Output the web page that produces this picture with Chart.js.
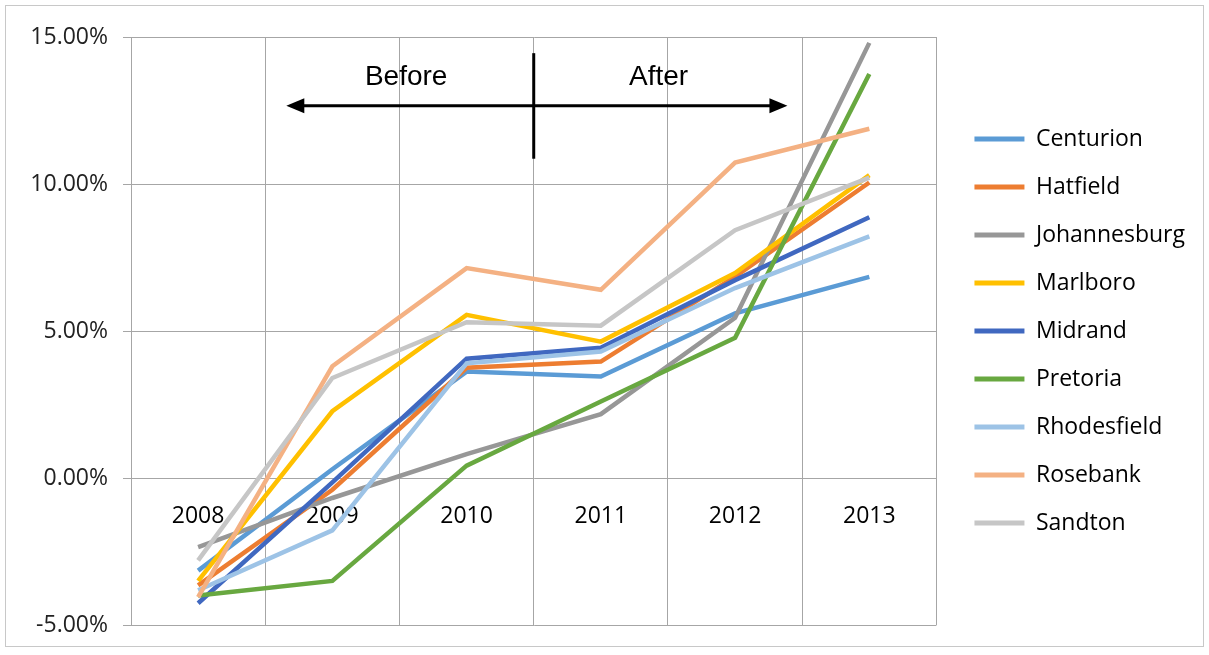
<!DOCTYPE html>
<html>
<head>
<meta charset="utf-8">
<script src="https://cdn.jsdelivr.net/npm/chart.js@4/dist/chart.umd.min.js"></script>
<style>
  html, body { margin: 0; padding: 0; background: #ffffff; }
  #wrap { position: relative; width: 1209px; height: 655px; }
  #frame { position: absolute; left: 5px; top: 5px; width: 1199px; height: 642px; border: 1px solid #c8c8c8; box-sizing: border-box; pointer-events: none; }
  canvas { position: absolute; left: 0; top: 0; }
</style>
</head>
<body>
<div id="wrap">
  <canvas id="chart" width="1209" height="655"></canvas>
  <div id="frame"></div>
</div>
<script>
// Annual change per office node, in percent
const years = ['2008', '2009', '2010', '2011', '2012', '2013'];

const centurion    = [-3.15,  0.30, 3.62, 3.45,  5.60,  6.84];
const hatfield     = [-3.65, -0.40, 3.75, 3.96,  6.85, 10.05];
const johannesburg = [-2.35, -0.68, 0.81, 2.17,  5.45, 14.80];
const marlboro     = [-3.50,  2.27, 5.55, 4.64,  6.97, 10.30];
const midrand      = [-4.26, -0.15, 4.06, 4.43,  6.73,  8.87];
const pretoria     = [-4.00, -3.50, 0.42, 2.60,  4.77, 13.74];
const rhodesfield  = [-3.82, -1.78, 3.90, 4.30,  6.46,  8.22];
const rosebank     = [-4.05,  3.80, 7.14, 6.40, 10.73, 11.88];
const sandton      = [-2.80,  3.40, 5.30, 5.18,  8.43, 10.22];

const yTicks = [-5, 0, 5, 10, 15];

const seriesNames = ['Centurion', 'Hatfield', 'Johannesburg', 'Marlboro', 'Midrand',
                     'Pretoria', 'Rhodesfield', 'Rosebank', 'Sandton'];
const seriesValues = [centurion, hatfield, johannesburg, marlboro, midrand,
                      pretoria, rhodesfield, rosebank, sandton];
const seriesColors = ['#5b9bd5', '#ed7d31', '#979797', '#ffc000', '#4068c0',
                      '#68a840', '#9dc3e6', '#f4b183', '#c6c6c6'];

const FONT = '"Open Sans", "DejaVu Sans", sans-serif';

const datasets = seriesNames.map((name, i) => ({
  label: name,
  data: seriesValues[i],
  borderColor: seriesColors[i],
  backgroundColor: seriesColors[i],
  borderWidth: 4.5,
  pointRadius: 0,
  pointHoverRadius: 0,
  tension: 0,
  fill: false,
  // later series sit on top of earlier ones
  order: seriesNames.length - 1 - i
}));

// Before / After divider with double-headed arrow
const periodMarker = {
  id: 'periodMarker',
  afterDatasetsDraw(chart) {
    const { ctx, scales: { x, y } } = chart;
    ctx.save();
    ctx.strokeStyle = '#000000';
    ctx.fillStyle = '#000000';
    ctx.lineWidth = 3;

    // divider between 2010 and 2011
    const dx = x.getPixelForValue(2.5);
    ctx.beginPath();
    ctx.moveTo(dx, y.getPixelForValue(14.45));
    ctx.lineTo(dx, y.getPixelForValue(10.86));
    ctx.stroke();

    // arrow shaft
    const ay = y.getPixelForValue(12.66);
    const xl = x.getPixelForValue(0.657);
    const xr = x.getPixelForValue(4.39);
    const head = 18, half = 7.5;
    ctx.beginPath();
    ctx.moveTo(xl + head - 2, ay);
    ctx.lineTo(xr - head + 2, ay);
    ctx.stroke();

    // arrow heads
    ctx.beginPath();
    ctx.moveTo(xl, ay);
    ctx.lineTo(xl + head, ay - half);
    ctx.lineTo(xl + head, ay + half);
    ctx.closePath();
    ctx.fill();
    ctx.beginPath();
    ctx.moveTo(xr, ay);
    ctx.lineTo(xr - head, ay - half);
    ctx.lineTo(xr - head, ay + half);
    ctx.closePath();
    ctx.fill();

    // labels
    ctx.font = '28px "Liberation Sans", Arial, sans-serif';
    ctx.textAlign = 'center';
    ctx.textBaseline = 'middle';
    const ty = y.getPixelForValue(13.64);
    ctx.fillText('Before', x.getPixelForValue(1.55), ty);
    ctx.fillText('After', x.getPixelForValue(3.43), ty);
    ctx.restore();
  }
};

new Chart(document.getElementById('chart'), {
  type: 'line',
  data: { labels: years, datasets },
  plugins: [periodMarker],
  options: {
    responsive: false,
    animation: false,
    layout: { padding: { left: 28, top: 37, right: 14, bottom: 30 } },
    plugins: {
      tooltip: { enabled: false },
      legend: {
        position: 'right',
        align: 'center',
        fullSize: false,
        maxWidth: 320,
        labels: {
          boxWidth: 50,
          boxHeight: 5,
          padding: 25,
          color: '#000000',
          font: { family: FONT, size: 23, lineHeight: 1.2 },
          generateLabels: (chart) => chart.data.datasets.map((ds, i) => ({
            text: ds.label,
            fillStyle: ds.borderColor,
            strokeStyle: ds.borderColor,
            lineWidth: 0,
            hidden: false,
            datasetIndex: i
          }))
        }
      }
    },
    scales: {
      x: {
        type: 'category',
        offset: true,
        position: { y: 0 },
        grid: { display: true, offset: true, color: '#a6a6a6', lineWidth: 1, drawTicks: false },
        border: { display: false },
        ticks: { color: '#000000', padding: 25, font: { family: FONT, size: 23 }, maxRotation: 0 }
      },
      y: {
        min: -5,
        max: 15,
        afterBuildTicks: (scale) => { scale.ticks = yTicks.map(v => ({ value: v })); },
        afterFit: (scale) => { scale.width = 103; },
        grid: { color: '#a6a6a6', lineWidth: 1, drawTicks: true, tickLength: 8 },
        border: { display: true, color: '#a6a6a6' },
        ticks: {
          color: '#222222',
          padding: 15,
          font: { family: FONT, size: 23 },
          callback: (v) => Number(v).toFixed(2) + '%'
        }
      },
      gap: {
        position: 'right',
        display: true,
        grid: { display: false },
        border: { display: false },
        ticks: { display: false },
        afterFit: (scale) => { scale.width = 13; }
      }
    }
  }
});
</script>
</body>
</html>
